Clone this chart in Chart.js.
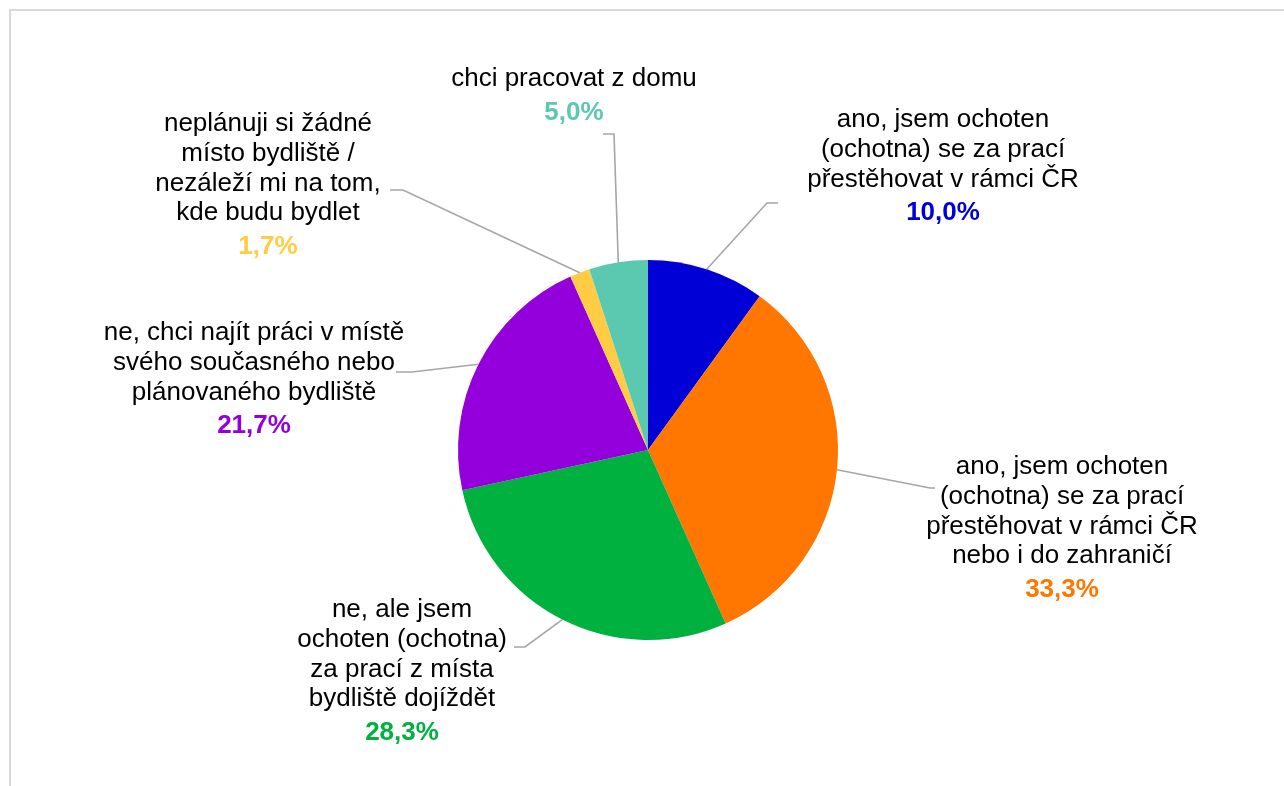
<!DOCTYPE html>
<html lang="cs">
<head>
<meta charset="utf-8">
<title>Ochota přestěhovat se za prací</title>
<script src="https://cdn.jsdelivr.net/npm/chart.js@4.4.1/dist/chart.umd.min.js"></script>
<style>
  html, body { margin: 0; padding: 0; background: #ffffff; }
  canvas { display: block; }
</style>
</head>
<body>
<canvas id="chart" width="1284" height="786"></canvas>
<script>
// Answer categories (label text split into lines)
const categories = [
  ['ano, jsem ochoten', '(ochotna) se za prací', 'přestěhovat v rámci ČR'],
  ['ano, jsem ochoten', '(ochotna) se za prací', 'přestěhovat v rámci ČR', 'nebo i do zahraničí'],
  ['ne, ale jsem', 'ochoten (ochotna)', 'za prací z místa', 'bydliště dojíždět'],
  ['ne, chci najít práci v místě', 'svého současného nebo', 'plánovaného bydliště'],
  ['neplánuji si žádné', 'místo bydliště /', 'nezáleží mi na tom,', 'kde budu bydlet'],
  ['chci pracovat z domu']
];
// Share of respondents, %
const shares = [10.0, 33.3, 28.3, 21.7, 1.7, 5.0];
const sliceColors = ['#0000d6', '#ff7600', '#00b140', '#9300dc', '#ffcc44', '#5bc8b0'];
const valueColors = ['#0000d6', '#ff7600', '#00b140', '#9300dc', '#ffcc44', '#5bc8b0'];

// Label placement: text centre x, first line y, leader elbow and leader end x
const labelX = [943, 1062, 402, 254, 268, 574];
const labelY = [120, 467, 610, 333, 124, 79];
const elbowX = [767, 930, 525, 412, 403, 614];
const elbowY = [203, 488, 647, 372, 190, 134];
const leaderEndX = [778, 935, 514, 396, 390, 603];

const FONT = '"Liberation Sans", Arial, sans-serif';
const LINE = 29.7;
const VALUE_GAP = 4;

const fmt = v => v.toFixed(1).replace('.', ',') + '%';

const framePlugin = {
  id: 'frame',
  beforeDraw(chart) {
    const ctx = chart.ctx;
    ctx.save();
    ctx.strokeStyle = '#d9d9d9';
    ctx.lineWidth = 2;
    ctx.beginPath();
    ctx.moveTo(10, chart.height);
    ctx.lineTo(10, 10);
    ctx.lineTo(chart.width, 10);
    ctx.stroke();
    ctx.restore();
  }
};

const calloutPlugin = {
  id: 'callouts',
  afterDatasetsDraw(chart) {
    const ctx = chart.ctx;
    const meta = chart.getDatasetMeta(0);
    ctx.save();
    meta.data.forEach((arc, i) => {
      const p = arc.getProps(['x', 'y', 'startAngle', 'endAngle', 'outerRadius'], true);
      const mid = (p.startAngle + p.endAngle) / 2;
      const ax = p.x + Math.cos(mid) * p.outerRadius;
      const ay = p.y + Math.sin(mid) * p.outerRadius;
      // leader line
      ctx.strokeStyle = '#a6a6a6';
      ctx.lineWidth = 1.6;
      ctx.beginPath();
      ctx.moveTo(ax, ay);
      ctx.lineTo(elbowX[i], elbowY[i]);
      ctx.lineTo(leaderEndX[i], elbowY[i]);
      ctx.stroke();
      // category text
      ctx.textAlign = 'center';
      ctx.textBaseline = 'middle';
      ctx.fillStyle = '#000000';
      ctx.font = '26px ' + FONT;
      const lines = chart.data.labels[i];
      lines.forEach((t, k) => ctx.fillText(t, labelX[i], labelY[i] + k * LINE));
      // value
      ctx.font = 'bold 26px ' + FONT;
      ctx.fillStyle = valueColors[i];
      ctx.fillText(fmt(chart.data.datasets[0].data[i]), labelX[i], labelY[i] + lines.length * LINE + VALUE_GAP);
    });
    ctx.restore();
  }
};

new Chart(document.getElementById('chart'), {
  type: 'pie',
  data: {
    labels: categories,
    datasets: [{
      data: shares,
      backgroundColor: sliceColors,
      borderWidth: 0
    }]
  },
  options: {
    responsive: false,
    animation: false,
    rotation: 0,
    layout: { padding: { left: 458, right: 446, top: 260, bottom: 146 } },
    plugins: {
      legend: { display: false },
      tooltip: { enabled: false }
    }
  },
  plugins: [framePlugin, calloutPlugin]
});
</script>
</body>
</html>
